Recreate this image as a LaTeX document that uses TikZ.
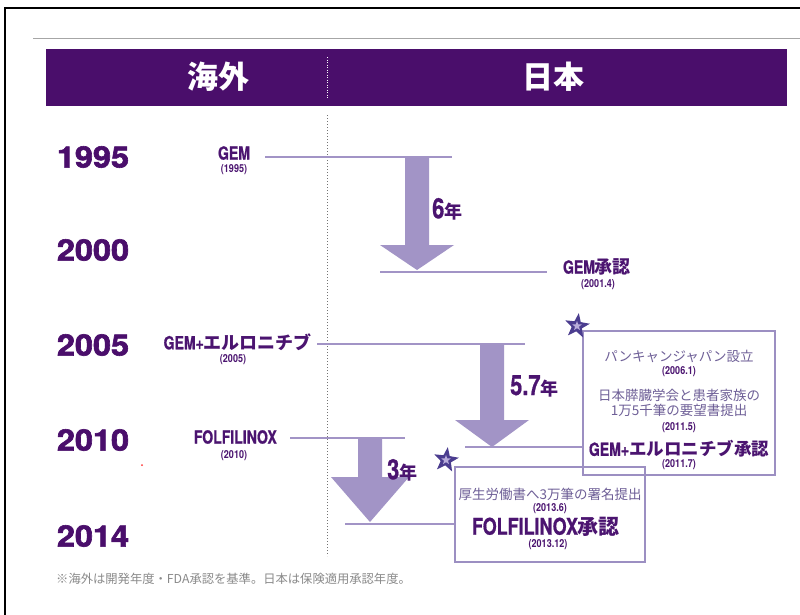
\documentclass[tikz,border=0pt]{standalone}
\usepackage{fontspec}
\usepackage{graphicx}
\usetikzlibrary{shapes.geometric}
\setmainfont{TeX Gyre Heros}
\newfontfamily\jp{Noto Sans CJK JP}
\newfontfamily\heavy{texgyreheros-bold.otf}[FakeBold=2]
\newfontfamily\semiheavy{texgyreheros-bold.otf}[FakeBold=0.9]
\definecolor{hdr}{HTML}{4A0E6B}
\definecolor{ink}{HTML}{4B1470}
\definecolor{lav}{HTML}{A294C6}
\definecolor{boxc}{HTML}{9C8FC2}
\definecolor{soft}{HTML}{6E5F97}
\definecolor{note}{HTML}{8A8A8A}
\definecolor{starc}{HTML}{4B3D8F}
\definecolor{starin}{HTML}{B9ADDB}
\newcommand\cnd[2][0.78]{\scalebox{#1}[1]{#2}}
\newcommand\latb[2]{{\semiheavy\fontsize{#1}{#1}\selectfont\cnd{#2}}}
\newcommand\jpb[2]{{\jp\fontsize{#1}{#1}\selectfont\bfseries #2}}
\newcommand\smy[1]{{\fontsize{11}{11}\selectfont\bfseries\cnd[0.82]{#1}}}
\newcommand\blockarr[5]{% center x, top y, head y, tip y, head half width
  \fill[lav] (#1-12,#2) -- (#1-12,#3) -- (#1-#5,#3) -- (#1,#4) -- (#1+#5,#3) -- (#1+12,#3) -- (#1+12,#2) -- cycle;}
\begin{document}
\begin{tikzpicture}[x=1pt,y=-1pt,
  yr/.style={text=hdr, inner sep=0, font=\heavy\fontsize{29.5}{29.5}\selectfont},
  lbl/.style={text=ink, inner sep=0},
  soft/.style={text=soft, inner sep=0, font=\jp\fontsize{13.5}{15}\selectfont, align=center},
  tline/.style={draw=lav, line width=2},
  infobox/.style={draw=boxc, line width=1.1, inner sep=0},
  starnode/.style={star, star points=5, star point ratio=2.4, inner sep=0, fill=starc, minimum size=26pt, rotate=-8}
]
\useasboundingbox (0,0) rectangle (800,614);
\fill[white] (0,0) rectangle (800,614);
% frame and top rule
\draw[black, line width=2] (5,640) -- (5,8) -- (810,8);
\draw[black!35, line width=1] (33,38) -- (800,38);
% header band
\fill[hdr] (46,49) rectangle (787,106);
\draw[white, line width=0.8, dash pattern=on 1pt off 1.5pt] (327,57) -- (327,99);
\node[text=white, inner sep=0] (hleft) at (218,77) {\jpb{31}{海外}};
\node[text=white, inner sep=0] (hright) at (553,77) {\jpb{31}{日本}};
% central dotted divider
\draw[black!55, line width=1, dash pattern=on 1pt off 2pt] (327,115) -- (327,556);
% years
\node[yr] (y1995) at (93,157) {\cnd[1.1]{1995}};
\node[yr] (y2000) at (93,250) {\cnd[1.1]{2000}};
\node[yr] (y2005) at (93,345) {\cnd[1.1]{2005}};
\node[yr] (y2010) at (93,440) {\cnd[1.1]{2010}};
\node[yr] (y2014) at (93,536) {\cnd[1.1]{2014}};
% block arrows
\blockarr{417}{157}{245}{270}{37}
\blockarr{492}{344}{420}{447}{37}
\blockarr{370}{438}{477}{522}{39}
% timeline coordinates
\coordinate (a1) at (265,157); \coordinate (a2) at (452,157);
\coordinate (b1) at (380,272); \coordinate (b2) at (547,272);
\coordinate (c1) at (317,344); \coordinate (c2) at (525,344);
\coordinate (e1) at (290,438); \coordinate (e2) at (405,438);
\coordinate (d1) at (465,447); \coordinate (d2) at (583,447);
\coordinate (f1) at (345,524); \coordinate (f2) at (455,524);
\draw[tline] (a1) -- (a2);
\draw[tline] (b1) -- (b2);
\draw[tline] (c1) -- (c2);
\draw[tline] (e1) -- (e2);
\draw[tline] (d1) -- (d2);
\draw[tline] (f1) -- (f2);
% left labels
\node[lbl] (gem) at (234,153) {\latb{18}{GEM}};
\node[lbl] (gemy) at (234,169.5) {\smy{(1995)}};
\node[lbl, anchor=east] (ge) at (312,342) {\latb{18}{GEM+}\jpb{18}{エルロニチブ}};
\node[lbl] (gey) at (233,360) {\smy{(2005)}};
\node[lbl, anchor=east] (ff) at (277,437) {\latb{18}{FOLFILINOX}};
\node[lbl] (ffy) at (234,456) {\smy{(2010)}};
% durations
\node[lbl, anchor=west] (d6) at (432,209) {\latb{28}{6}\jpb{18}{年}};
\node[lbl, anchor=west] (d57) at (510,386) {\latb{28}{5.7}\jpb{18}{年}};
\node[lbl, anchor=west] (d3) at (387,470) {\latb{28}{3}\jpb{18}{年}};
% GEM approval
\node[lbl] (gema) at (597,267) {\latb{18}{GEM}\jpb{18}{承認}};
\node[lbl] (gemay) at (598,285) {\smy{(2001.4)}};
% info boxes
\node[infobox, minimum width=192pt, minimum height=144pt] (box1) at (679,403) {};
\node[infobox, minimum width=190pt, minimum height=95pt] (box2) at (550,514.5) {};
\node[soft] (t1) at (679,356) {パンキャンジャパン設立};
\node[lbl] (t1y) at (679,372) {\smy{(2006.1)}};
\node[soft] (t2) at (679,403) {日本膵臓学会と患者家族の\\1万5千筆の要望書提出};
\node[lbl] (t2y) at (679,428) {\smy{(2011.5)}};
\node[lbl] (t3) at (679,449) {\latb{18}{GEM+}\jpb{17.5}{エルロニチブ承認}};
\node[lbl] (t3y) at (679,465) {\smy{(2011.7)}};
\node[soft] (u1) at (550,494) {厚生労働書へ3万筆の署名提出};
\node[lbl] (u1y) at (550,509) {\smy{(2013.6)}};
\node[lbl] (u2) at (546,527) {\latb{23}{FOLFILINOX}\jpb{21}{承認}};
\node[lbl] (u2y) at (548,545) {\smy{(2013.12)}};
% stars
\node[starnode] (s1) at (577,326) {};
\node[star, star points=5, star point ratio=2.4, inner sep=0, fill=starin, minimum size=10pt] (s1i) at (s1) {};
\node[starnode] (s2) at (446,460) {};
\node[star, star points=5, star point ratio=2.4, inner sep=0, fill=starin, minimum size=10pt] (s2i) at (s2) {};
% footnote
\node[anchor=west, inner sep=0, text=note] (fn) at (56,579) {\jp\fontsize{12.3}{13}\selectfont ※海外は開発年度・FDA承認を基準。日本は保険適用承認年度。};
% stray red dot
\fill[red!80] (142,465) circle (1);
\end{tikzpicture}
\end{document}
